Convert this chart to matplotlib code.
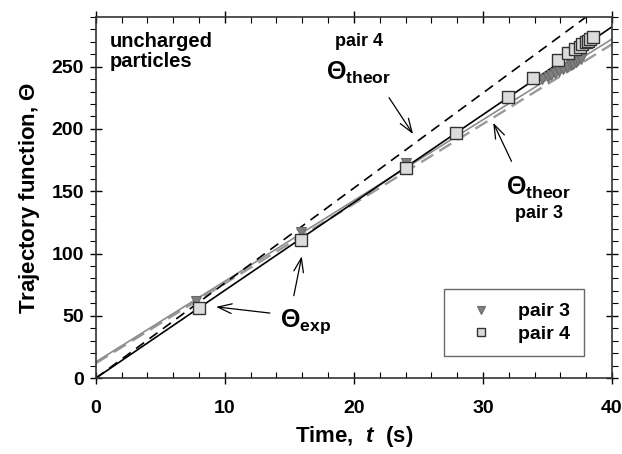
import numpy as np
import matplotlib
matplotlib.use('Agg')
import matplotlib.pyplot as plt
from matplotlib.ticker import MultipleLocator

plt.rcParams['font.family'] = ['Liberation Sans', 'DejaVu Sans']
plt.rcParams['font.weight'] = 'bold'
plt.rcParams['mathtext.fontset'] = 'custom'
plt.rcParams['mathtext.rm'] = 'Liberation Sans:bold'
plt.rcParams['mathtext.it'] = 'Liberation Sans:bold:italic'
plt.rcParams['mathtext.bf'] = 'Liberation Sans:bold'

# ── Data ───────────────────────────────────────────────────────────────────────
t_pair4 = [8.0, 15.9, 24.0, 27.9, 31.9, 33.9, 35.8, 36.6, 37.1, 37.5, 37.7, 38.0, 38.1, 38.3, 38.5]
th_pair4 = [56, 111, 168.5, 197, 226, 240.5, 255, 261, 264, 266, 268, 269.5, 270.5, 272, 274]

t_pair3 = [7.8, 15.9, 24.0, 34.6, 35.0, 35.3, 35.6, 35.9, 36.2, 36.5, 36.8, 37.0, 37.2, 37.4, 37.6]
th_pair3 = [62, 117, 172.5, 240, 242, 243.5, 245, 246.5, 248, 249.5, 251, 252, 253.5, 255, 256.5]

# straight lines: (intercept, slope)
fit4 = (0.0, 7.05)      # solid black, pair 4 fit
theor4 = (0.0, 7.63)    # dashed black, pair 4 theory
fit3 = (13.0, 6.48)     # solid gray, pair 3 fit
theor3 = (12.0, 6.40)   # dashed gray, pair 3 theory

t_line = np.array([0.0, 40.0])

fig = plt.figure(figsize=(6.22, 4.54), dpi=100)
ax = fig.add_axes([0.154, 0.167, 0.830, 0.796])

ax.plot(t_line, theor3[0] + theor3[1] * t_line, color='#9a9a9a', lw=1.7, ls=(0, (6, 3)), zorder=2)
ax.plot(t_line, fit3[0] + fit3[1] * t_line, color='#8c8c8c', lw=1.2, zorder=2)
ax.plot(t_line, theor4[0] + theor4[1] * t_line, color='black', lw=1.2, ls=(0, (6, 4)), zorder=2)
ax.plot(t_line, fit4[0] + fit4[1] * t_line, color='black', lw=1.2, zorder=2)

ax.plot(t_pair3, th_pair3, ls='none', marker='v', ms=7.5, mfc='#7f7f7f', mec='#6a6a6a', mew=0.8,
        label='pair 3', zorder=3)
ax.plot(t_pair4, th_pair4, ls='none', marker='s', ms=8, mfc='#dcdcdc', mec='#333333', mew=1.0,
        label='pair 4', zorder=4)

ax.set_xlim(0, 40)
ax.set_ylim(0, 290)
ax.xaxis.set_major_locator(MultipleLocator(10))
ax.xaxis.set_minor_locator(MultipleLocator(2))
ax.set_yticks([0, 50, 100, 150, 200, 250])
ax.yaxis.set_minor_locator(MultipleLocator(10))
ax.tick_params(which='major', direction='inout', length=9, width=1.0, labelsize=14,
               top=True, right=True)
ax.tick_params(axis='x', which='major', pad=11)
ax.tick_params(axis='y', which='major', pad=4)
ax.tick_params(axis='x', which='minor', direction='in', length=4, width=0.8, top=True)
ax.tick_params(axis='y', which='minor', direction='out', length=4, width=0.8, right=True)
for lab in ax.get_xticklabels() + ax.get_yticklabels():
    lab.set_fontweight('bold')
for spine in ax.spines.values():
    spine.set_linewidth(1.2)
    spine.set_color('#333333')

ax.set_xlabel(r'Time,  $\mathit{t}$  (s)', fontsize=16, fontweight='bold', labelpad=5)
ax.set_ylabel(r'Trajectory function, $\Theta$', fontsize=16, fontweight='bold', labelpad=7)

# annotations
ax.text(1.1, 278, 'uncharged\nparticles', fontsize=14.5, fontweight='bold', va='top', ha='left',
        linespacing=1.05)
ax.text(18.5, 270, 'pair 4', fontsize=13, fontweight='bold', va='center', ha='left')
ax.text(17.8, 245, r'$\Theta_{\mathrm{theor}}$', fontsize=18, va='center', ha='left')
ax.annotate('', xy=(24.7, 194), xytext=(22.6, 227),
            arrowprops=dict(arrowstyle='->, head_length=1.0, head_width=0.35', lw=0.9, color='black'))

ax.text(31.8, 153, r'$\Theta_{\mathrm{theor}}$', fontsize=18, va='center', ha='left')
ax.text(32.5, 132, 'pair 3', fontsize=13, fontweight='bold', va='center', ha='left')
ax.annotate('', xy=(30.7, 207), xytext=(32.3, 172),
            arrowprops=dict(arrowstyle='->, head_length=1.0, head_width=0.35', lw=0.9, color='black'))

ax.text(14.3, 45, r'$\Theta_{\mathrm{exp}}$', fontsize=18, va='center', ha='left')
ax.annotate('', xy=(9.1, 57.5), xytext=(13.7, 52),
            arrowprops=dict(arrowstyle='->, head_length=1.0, head_width=0.35', lw=0.9, color='black'))
ax.annotate('', xy=(16.0, 100), xytext=(15.3, 64),
            arrowprops=dict(arrowstyle='->, head_length=1.0, head_width=0.35', lw=0.9, color='black'))

leg = ax.legend(loc='lower right', bbox_to_anchor=(0.945, 0.06), fontsize=14, frameon=True,
                fancybox=False, edgecolor='#444444', handletextpad=0.7, borderpad=0.7,
                labelspacing=0.25, markerscale=0.75, handlelength=2.4, borderaxespad=0)
leg.get_frame().set_linewidth(1.0)
for txt in leg.get_texts():
    txt.set_fontweight('bold')

fig.savefig('out.png', dpi=100)
